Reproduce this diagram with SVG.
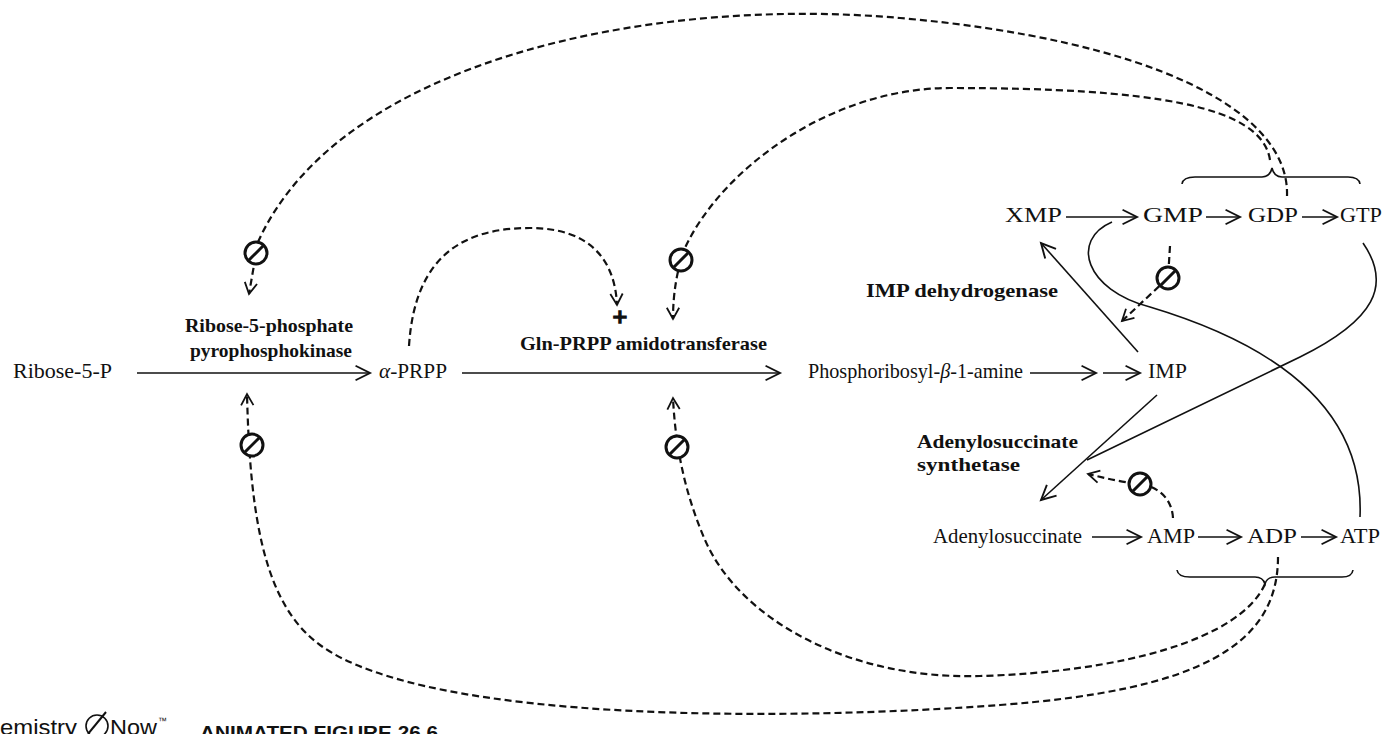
<svg xmlns="http://www.w3.org/2000/svg" xmlns:xlink="http://www.w3.org/1999/xlink" width="1385" height="734" viewBox="0 0 1385 734">
<defs>
<style>
.t{font-family:"Liberation Serif","Times New Roman",serif;font-size:21px;fill:#111}
.b{font-family:"Liberation Serif","Times New Roman",serif;font-size:19px;font-weight:bold;fill:#111}
.f{font-family:"Liberation Sans",Arial,sans-serif;fill:#111}
.s{fill:none;stroke:#111;stroke-width:1.6}
.d{fill:none;stroke:#111;stroke-width:2.2;stroke-dasharray:7 4}
.br{fill:none;stroke:#111;stroke-width:1.6}
</style>
<marker id="a" markerUnits="userSpaceOnUse" markerWidth="20" markerHeight="20" viewBox="-15 -9 17 18" refX="0" refY="0" orient="auto">
<path d="M-13,-6.5 L0,0 L-13,6.5" fill="none" stroke="#111" stroke-width="1.7"/>
</marker>
<marker id="da" markerUnits="userSpaceOnUse" markerWidth="18" markerHeight="18" viewBox="-13 -8 15 16" refX="0" refY="0" orient="auto">
<path d="M-10,-5.5 L0,0 L-10,5.5" fill="none" stroke="#111" stroke-width="1.6"/>
</marker>
<g id="inhib">
<circle r="11" fill="#fff" stroke="#111" stroke-width="3"/>
<line x1="-7" y1="7" x2="7" y2="-7" stroke="#111" stroke-width="3"/>
</g>
</defs>
<rect width="1385" height="734" fill="#fff"/>

<g id="connectors">
<path class="s" d="M137,373 L370,373" marker-end="url(#a)"/>
<path class="s" d="M462,373 L780,373" marker-end="url(#a)"/>
<path class="s" d="M1030,373 L1096,373" marker-end="url(#a)"/>
<path class="s" d="M1103,373 L1140,373" marker-end="url(#a)"/>
<path class="s" d="M1138,352 L1041,243" marker-end="url(#a)"/>
<path class="s" d="M1157,395 L1041,500" marker-end="url(#a)"/>
<path class="s" d="M1066,217 L1137,217" marker-end="url(#a)"/>
<path class="s" d="M1206,217 L1240,217" marker-end="url(#a)"/>
<path class="s" d="M1302,217 L1337,217" marker-end="url(#a)"/>
<path class="s" d="M1092,537 L1141,537" marker-end="url(#a)"/>
<path class="s" d="M1198,537 L1241,537" marker-end="url(#a)"/>
<path class="s" d="M1301,537 L1336,537" marker-end="url(#a)"/>
<path class="s" d="M1112,222 C1070,240 1085,290 1150,307 C1260,340 1365,400 1360,517"/>
<path class="s" d="M1363,243 C1392,285 1375,320 1300,357 L1087,460"/>
<path class="br" d="M1182,184 Q1183,177 1195,177 L1262,177 Q1270,177 1272,168 Q1274,177 1282,177 L1348,177 Q1359,177 1360,184"/>
<path class="br" d="M1177,570 Q1178,577 1190,577 L1255,577 Q1263,577 1265,584 Q1267,577 1275,577 L1342,577 Q1352,577 1353,570"/>
<path class="d" d="M1287,196 C1290,110 1150,40 900,18 C650,-4 340,60 258,242 L249,294" marker-end="url(#da)"/>
<path class="d" d="M1270,160 C1262,105 1150,88 950,88 C830,88 720,170 684,250 C678,268 673,290 673,319" marker-end="url(#da)"/>
<path class="d" d="M409,346 C415,250 470,228 530,228 C590,228 615,260 617,305" marker-end="url(#da)"/>
<path class="d" d="M1278,557 C1278,645 1200,690 1000,705 C800,720 430,725 320,645 C265,605 250,520 247,394" marker-end="url(#da)"/>
<path class="d" d="M1265,584 C1240,640 1120,672 980,676 C850,680 740,620 705,540 C690,505 676,460 673,398" marker-end="url(#da)"/>
<path class="d" d="M1170,246 L1168,278 L1122,321" marker-end="url(#da)"/>
<path class="d" d="M1173,518 C1172,500 1160,487 1140,484 C1120,482 1105,478 1088,474" marker-end="url(#da)"/>
<use xlink:href="#inhib" x="256" y="253"/>
<use xlink:href="#inhib" x="252" y="445"/>
<use xlink:href="#inhib" x="681" y="260"/>
<use xlink:href="#inhib" x="677" y="447"/>
<use xlink:href="#inhib" x="1168" y="278"/>
<use xlink:href="#inhib" x="1140" y="484"/>
</g>

<g id="ribose5p"><text class="t" x="13" y="378" textLength="99" lengthAdjust="spacingAndGlyphs">Ribose-5-P</text></g>
<g id="prpp"><text class="t" x="379" y="378" textLength="68" lengthAdjust="spacingAndGlyphs"><tspan font-style="italic">α</tspan>-PRPP</text></g>
<g id="pra"><text class="t" x="808" y="378" textLength="215" lengthAdjust="spacingAndGlyphs">Phosphoribosyl-<tspan font-style="italic">β</tspan>-1-amine</text></g>
<g id="imp"><text class="t" x="1148" y="378" textLength="39" lengthAdjust="spacingAndGlyphs">IMP</text></g>
<g id="xmp"><text class="t" x="1005" y="222" textLength="57" lengthAdjust="spacingAndGlyphs">XMP</text></g>
<g id="gmp"><text class="t" x="1143" y="222" textLength="60" lengthAdjust="spacingAndGlyphs">GMP</text></g>
<g id="gdp"><text class="t" x="1248" y="222" textLength="50" lengthAdjust="spacingAndGlyphs">GDP</text></g>
<g id="gtp"><text class="t" x="1340" y="222" textLength="42" lengthAdjust="spacingAndGlyphs">GTP</text></g>
<g id="adenylosuccinate"><text class="t" x="933" y="543" textLength="149" lengthAdjust="spacingAndGlyphs">Adenylosuccinate</text></g>
<g id="amp"><text class="t" x="1147" y="543" textLength="48" lengthAdjust="spacingAndGlyphs">AMP</text></g>
<g id="adp"><text class="t" x="1247" y="543" textLength="50" lengthAdjust="spacingAndGlyphs">ADP</text></g>
<g id="atp"><text class="t" x="1340" y="543" textLength="40" lengthAdjust="spacingAndGlyphs">ATP</text></g>

<g id="enz-prs">
<text class="b" x="269" y="332" text-anchor="middle" textLength="168" lengthAdjust="spacingAndGlyphs">Ribose-5-phosphate</text>
<text class="b" x="271" y="357" text-anchor="middle" textLength="162" lengthAdjust="spacingAndGlyphs">pyrophosphokinase</text>
</g>
<g id="enz-gpat">
<text class="b" x="520" y="350" textLength="247" lengthAdjust="spacingAndGlyphs">Gln-PRPP amidotransferase</text>
</g>
<g id="activation">
<text x="620" y="326" text-anchor="middle" font-family="'Liberation Serif',serif" font-size="26" font-weight="bold" fill="#111" stroke="#111" stroke-width="1.6">+</text>
</g>
<g id="enz-impdh"><text class="b" x="866" y="297" textLength="192" lengthAdjust="spacingAndGlyphs">IMP dehydrogenase</text></g>
<g id="enz-adss">
<text class="b" x="917" y="448" textLength="161" lengthAdjust="spacingAndGlyphs">Adenylosuccinate</text>
<text class="b" x="917" y="471" textLength="103" lengthAdjust="spacingAndGlyphs">synthetase</text>
</g>

<g id="footer">
<text class="f" x="0" y="735" font-size="22" textLength="77" lengthAdjust="spacingAndGlyphs">emistry</text>
<circle cx="97" cy="726" r="11" fill="none" stroke="#111" stroke-width="1.6"/>
<path d="M88,734 L106,712" fill="none" stroke="#111" stroke-width="2"/>
<text class="f" x="110" y="735" font-size="22" textLength="47" lengthAdjust="spacingAndGlyphs">Now</text>
<text class="f" x="158" y="724" font-size="9">™</text>
<text class="f" x="200" y="739" font-size="19" font-weight="bold" textLength="238" lengthAdjust="spacingAndGlyphs">ANIMATED FIGURE 26.6</text>
</g>
</svg>
